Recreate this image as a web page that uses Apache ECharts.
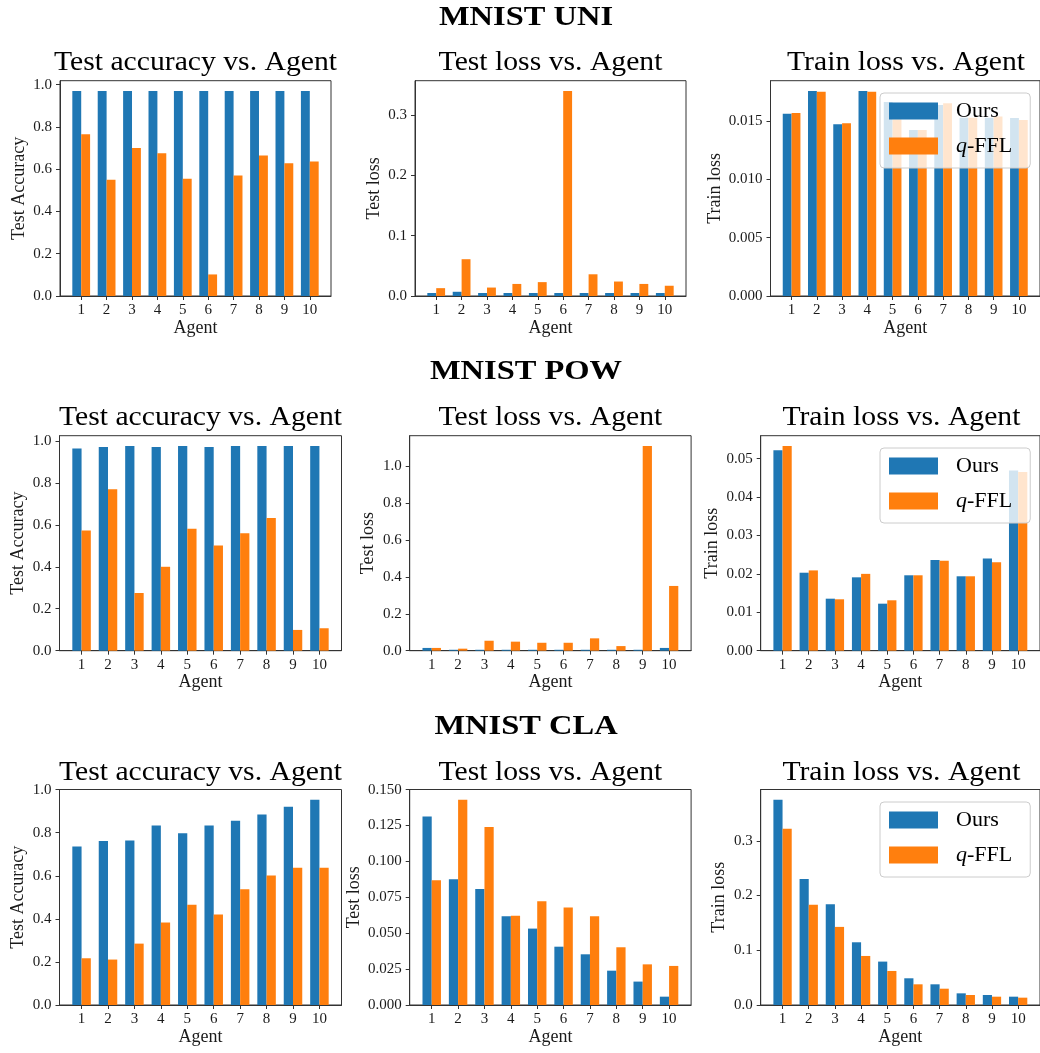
<!DOCTYPE html>
<html>
<head>
<meta charset="utf-8">
<title>MNIST per-agent results</title>
<script src="https://cdn.jsdelivr.net/npm/echarts@6/dist/echarts.min.js"></script>
<style>
  html, body { margin: 0; padding: 0; background: #fff; }
  #chart { width: 1040px; height: 1053px; }
</style>
</head>
<body>
<div id="chart"></div>
<script>
// ---- data -------------------------------------------------------------
const agents = [1, 2, 3, 4, 5, 6, 7, 8, 9, 10];

// MNIST UNI
const uniAccOurs   = [0.970, 0.970, 0.970, 0.970, 0.970, 0.970, 0.970, 0.970, 0.970, 0.970];
const uniAccQffl   = [0.765, 0.550, 0.700, 0.675, 0.555, 0.102, 0.570, 0.665, 0.628, 0.636];
const uniTestOurs  = [0.005, 0.007, 0.005, 0.005, 0.005, 0.005, 0.005, 0.005, 0.005, 0.005];
const uniTestQffl  = [0.013, 0.061, 0.014, 0.020, 0.023, 0.340, 0.036, 0.024, 0.020, 0.017];
const uniTrainOurs = [0.01565, 0.0176, 0.01474, 0.0176, 0.01666, 0.01425, 0.0164, 0.0153, 0.0153, 0.01528];
const uniTrainQffl = [0.01571, 0.01754, 0.01483, 0.01754, 0.01517, 0.01425, 0.01654, 0.0153, 0.0154, 0.0151];

// MNIST POW
const powAccOurs   = [0.964, 0.971, 0.976, 0.971, 0.976, 0.971, 0.976, 0.976, 0.976, 0.976];
const powAccQffl   = [0.573, 0.770, 0.275, 0.400, 0.581, 0.502, 0.560, 0.632, 0.099, 0.107];
const powTestOurs  = [0.015, 0.005, 0.005, 0.005, 0.005, 0.005, 0.005, 0.005, 0.005, 0.015];
const powTestQffl  = [0.015, 0.011, 0.054, 0.049, 0.043, 0.043, 0.067, 0.025, 1.110, 0.351];
const powTrainOurs = [0.0522, 0.0203, 0.01354, 0.0191, 0.01224, 0.01963, 0.0236, 0.01937, 0.0240, 0.0469];
const powTrainQffl = [0.0533, 0.0209, 0.01338, 0.0200, 0.01312, 0.01963, 0.0234, 0.01937, 0.0230, 0.0465];

// MNIST CLA
const claAccOurs   = [0.736, 0.761, 0.764, 0.834, 0.798, 0.834, 0.856, 0.884, 0.921, 0.953];
const claAccQffl   = [0.217, 0.211, 0.285, 0.383, 0.465, 0.420, 0.538, 0.601, 0.637, 0.637];
const claTestOurs  = [0.1312, 0.0875, 0.0808, 0.0618, 0.0532, 0.0406, 0.0353, 0.0239, 0.0163, 0.0058];
const claTestQffl  = [0.0868, 0.1429, 0.1240, 0.0622, 0.0722, 0.0678, 0.0618, 0.0402, 0.0283, 0.0272];
const claTrainOurs = [0.375, 0.230, 0.184, 0.1146, 0.0793, 0.0488, 0.0378, 0.0213, 0.0183, 0.0152];
const claTrainQffl = [0.322, 0.183, 0.1427, 0.0896, 0.0622, 0.0378, 0.0298, 0.0183, 0.0152, 0.0134];

// tick labels
const accTicks      = [0, 0.2, 0.4, 0.6, 0.8, 1.0];
const uniTestTicks  = [0, 0.1, 0.2, 0.3];
const uniTrainTicks = [0, 0.005, 0.010, 0.015];
const powTestTicks  = [0, 0.2, 0.4, 0.6, 0.8, 1.0];
const powTrainTicks = [0, 0.01, 0.02, 0.03, 0.04, 0.05];
const claTestTicks  = [0, 0.025, 0.050, 0.075, 0.100, 0.125, 0.150];
const claTrainTicks = [0, 0.1, 0.2, 0.3];

const rowTitles = ['MNIST UNI', 'MNIST POW', 'MNIST CLA'];
const seriesNames = ['Ours', 'q-FFL'];

// ---- layout & style ---------------------------------------------------
const FONT = '"Liberation Serif", "DejaVu Serif", serif';
const BLUE = '#1f77b4';
const ORANGE = '#ff7f0e';
const INK = '#1a1a1a';
const SPINE = '#333333';
const BAR_W = 0.35;

// plot boxes per row: top, height; per cell: left, width
const rowTops = [80.7, 435.7, 789.5];
const rowHeights = [215.3, 215, 215.5];
const colBoxes = [
  [[60, 271], [415, 271], [770.5, 271]],
  [[59.5, 282], [409.7, 281.4], [760.7, 281.4]],
  [[59.5, 282], [409.7, 281.4], [760.7, 281.4]]
];
const suptitleY = [18, 372, 727];
const titleY = [63, 418, 773];
const legendTop = [93, 448, 802];

const panels = [
  { row: 0, col: 0, ours: uniAccOurs,   qffl: uniAccQffl,   title: 'Test accuracy vs. Agent', ylabel: 'Test Accuracy', ticks: accTicks,      dec: 1, gap: 32 },
  { row: 0, col: 1, ours: uniTestOurs,  qffl: uniTestQffl,  title: 'Test loss vs. Agent',     ylabel: 'Test loss',     ticks: uniTestTicks,  dec: 1, gap: 32 },
  { row: 0, col: 2, ours: uniTrainOurs, qffl: uniTrainQffl, title: 'Train loss vs. Agent',    ylabel: 'Train loss',    ticks: uniTrainTicks, dec: 3, gap: 46 },
  { row: 1, col: 0, ours: powAccOurs,   qffl: powAccQffl,   title: 'Test accuracy vs. Agent', ylabel: 'Test Accuracy', ticks: accTicks,      dec: 1, gap: 32 },
  { row: 1, col: 1, ours: powTestOurs,  qffl: powTestQffl,  title: 'Test loss vs. Agent',     ylabel: 'Test loss',     ticks: powTestTicks,  dec: 1, gap: 32 },
  { row: 1, col: 2, ours: powTrainOurs, qffl: powTrainQffl, title: 'Train loss vs. Agent',    ylabel: 'Train loss',    ticks: powTrainTicks, dec: 2, gap: 39 },
  { row: 2, col: 0, ours: claAccOurs,   qffl: claAccQffl,   title: 'Test accuracy vs. Agent', ylabel: 'Test Accuracy', ticks: accTicks,      dec: 1, gap: 32 },
  { row: 2, col: 1, ours: claTestOurs,  qffl: claTestQffl,  title: 'Test loss vs. Agent',     ylabel: 'Test loss',     ticks: claTestTicks,  dec: 3, gap: 46 },
  { row: 2, col: 2, ours: claTrainOurs, qffl: claTrainQffl, title: 'Train loss vs. Agent',    ylabel: 'Train loss',    ticks: claTrainTicks, dec: 1, gap: 32 }
];

// x limits with a 5% margin around the outer bar edges
const xSpan = agents[agents.length - 1] - agents[0] + 2 * BAR_W;
const xMin = agents[0] - BAR_W - 0.05 * xSpan;
const xMax = agents[agents.length - 1] + BAR_W + 0.05 * xSpan;

const grids = [], xAxes = [], yAxes = [], series = [], graphics = [];

panels.forEach((p, i) => {
  const [left, width] = colBoxes[p.row][p.col];
  const top = rowTops[p.row];
  const height = rowHeights[p.row];
  grids.push({
    left, top, width, height,
    show: true, borderColor: SPINE, borderWidth: 1, backgroundColor: 'transparent'
  });
  xAxes.push({
    type: 'value', gridIndex: i, min: xMin, max: xMax,
    name: 'Agent', nameLocation: 'middle', nameGap: 23,
    nameTextStyle: { fontFamily: FONT, fontSize: 18, color: INK },
    axisLine: { show: true, lineStyle: { color: SPINE, width: 1 } },
    axisTick: { show: true, length: 4, customValues: agents, lineStyle: { color: SPINE, width: 1 } },
    axisLabel: { customValues: agents, margin: 7, fontFamily: FONT, fontSize: 15, color: INK,
                 formatter: v => String(Math.round(v)) },
    splitLine: { show: false }
  });
  const peak = Math.max(...p.ours, ...p.qffl);
  yAxes.push({
    type: 'value', gridIndex: i, min: 0, max: peak * 1.05,
    name: p.ylabel, nameLocation: 'middle', nameGap: p.gap, nameRotate: 90,
    nameTextStyle: { fontFamily: FONT, fontSize: 18, color: INK },
    axisLine: { show: true, lineStyle: { color: SPINE, width: 1 } },
    axisTick: { show: true, length: 4, customValues: p.ticks, lineStyle: { color: SPINE, width: 1 } },
    axisLabel: { customValues: p.ticks, margin: 8, fontFamily: FONT, fontSize: 15, color: INK,
                 formatter: v => v.toFixed(p.dec) },
    splitLine: { show: false }
  });
  [[p.ours, BLUE], [p.qffl, ORANGE]].forEach(([vals, color], k) => {
    series.push({
      type: 'bar', name: seriesNames[k], xAxisIndex: i, yAxisIndex: i,
      data: agents.map((a, j) => [a, vals[j]]),
      barWidth: (BAR_W * 100) + '%', barGap: '0%',
      itemStyle: { color }, emphasis: { disabled: true }
    });
  });
  graphics.push({
    type: 'text', x: left + width / 2, y: titleY[p.row], scaleX: 1.06, silent: true,
    style: { text: p.title, fontFamily: FONT, fontSize: 28, fill: '#000',
             align: 'center', verticalAlign: 'middle' }
  });
});

rowTitles.forEach((t, r) => {
  graphics.push({
    type: 'text', x: 526, y: suptitleY[r], scaleX: 1.16, silent: true,
    style: { text: t, fontFamily: FONT, fontSize: 28, fontWeight: 'bold', fill: '#000',
             align: 'center', verticalAlign: 'middle' }
  });
});

const legends = legendTop.map(top => ({
  data: seriesNames, orient: 'vertical', left: 880, top,
  icon: 'rect', itemWidth: 49, itemHeight: 17, itemGap: 13,
  padding: [7, 18, 11, 9], selectedMode: false,
  backgroundColor: 'rgba(255,255,255,0.8)', borderColor: '#cccccc', borderWidth: 1, borderRadius: 4,
  formatter: n => n === 'q-FFL' ? '{i|q}-FFL' : n,
  textStyle: { fontFamily: FONT, fontSize: 22, color: '#000', padding: [0, 0, 0, 13],
               rich: { i: { fontFamily: FONT, fontSize: 22, fontStyle: 'italic', color: '#000' } } }
}));

const chart = echarts.init(document.getElementById('chart'), null, { renderer: 'canvas' });
chart.setOption({
  animation: false,
  backgroundColor: '#ffffff',
  grid: grids,
  xAxis: xAxes,
  yAxis: yAxes,
  series,
  legend: legends,
  graphic: graphics
});
</script>
</body>
</html>
